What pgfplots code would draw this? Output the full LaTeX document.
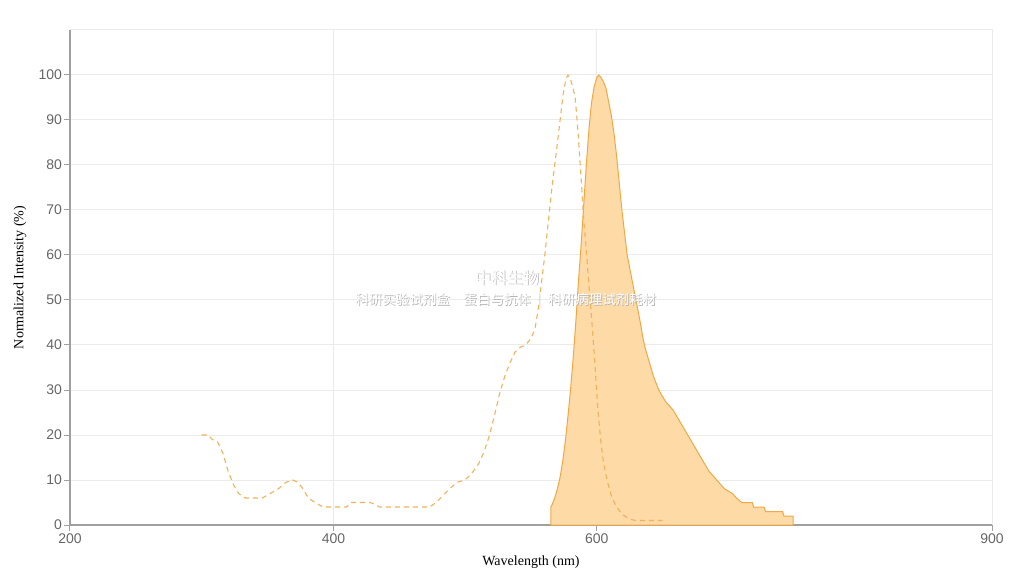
\documentclass[border=0pt]{standalone}
\usepackage{pgfplots}
\pgfplotsset{compat=1.18}
\usepackage{fontspec}
\setmainfont{Liberation Serif}
\newfontfamily\ticksf{Liberation Sans}
\newfontfamily\cjk{Noto Sans CJK SC}
\definecolor{gridc}{RGB}{235,235,235}
\definecolor{axc}{RGB}{160,160,160}
\definecolor{tickc}{RGB}{102,102,102}
\definecolor{fillc}{RGB}{253,218,166}
\definecolor{linec}{RGB}{240,168,70}
\definecolor{dashc}{RGB}{242,178,92}
\begin{document}
\begin{tikzpicture}
\path[use as bounding box] (-70pt,-51pt) rectangle (942pt,525pt);
\begin{axis}[at={(0,0)}, anchor=south west, scale only axis,
  width=922pt, height=495pt,
  xmin=200, xmax=900, ymin=0, ymax=110,
  xtick={200,400,600,900}, ytick={0,10,...,100},
  axis lines=left, axis line style={-, color=axc, line width=1.6pt},
  grid=major, major grid style={color=gridc, line width=1pt},
  tick align=outside, major tick length=6pt,
  tick style={color=axc, line width=1pt},
  /pgf/number format/assume math mode=true,
  ticklabel style={font=\ticksf\fontsize{14}{16}\selectfont, text=tickc},
  yticklabel style={xshift=1.5pt},
  xticklabel style={yshift=1pt},
  xlabel={Wavelength (nm)}, ylabel={Normalized Intensity (\%)},
  xlabel style={font=\fontsize{14}{16}\selectfont, at={(axis description cs:0.5,-0.0747)}, anchor=center},
  ylabel style={font=\fontsize{14}{16}\selectfont, at={(axis description cs:-0.0542,0.5)}, anchor=center},
  clip=false,
]
\draw[gridc, line width=1pt] (rel axis cs:0,1) -- (rel axis cs:1,1) -- (rel axis cs:1,0);
\addplot[fill=fillc, draw=linec, line width=1pt] coordinates {
(565,4) (566,4.5) (568,6) (570,8) (572,10.5) (574,14) (576,18.5) (578,24)
(580,30) (582,37) (584,45) (586,54) (588,62) (590,71) (592,80) (594,88)
(596,94) (598,97.5) (600,99.5) (601.5,100) (603,99.5) (605,98.5) (607,97)
(609,94) (611,91) (613,87) (615,82) (617,76) (619,70) (621,65) (623,60)
(625,57) (627,54) (629,51) (631,48) (633,45) (635,41.5) (637,39) (639,37)
(641,35) (643,33) (645,31.5) (647,30) (649,29) (652,27.5) (655,26.5)
(658,25.5) (661,24) (664,22.5) (667,21) (670,19.5) (673,18) (676,16.5)
(679,15) (682,13.5) (685,12) (688,11) (691,10) (694,9) (697,8) (700,7.5)
(703,7) (706,6) (710,5) (714,5) (718,5) (719,4) (727,4) (728,3) (741,3)
(742,2) (749,2)
} \closedcycle;
\addplot[draw=dashc, line width=1.1pt, dash pattern=on 5pt off 4pt] coordinates {
(300,20) (305,20) (308,19) (312,18.5) (316,16) (320,12) (324,9) (328,7)
(333,6) (340,6) (346,6) (352,7) (358,8) (364,9.5) (369,10) (373,9.5)
(377,8) (381,6) (386,5) (392,4) (400,4) (410,4) (413,5) (420,5) (428,5)
(432,4.5) (435,4) (445,4) (455,4) (465,4) (473,4) (478,5) (483,6.5)
(488,8) (494,9.5) (500,10) (505,11.5) (510,13.5) (514,16) (518,19.5)
(522,24) (526,29) (530,33) (534,36) (538,38.5) (542,39.5) (546,40)
(550,41.5) (553,43.5) (556,49) (558,54) (560.5,60) (563,67) (565.5,74)
(568,80) (570.5,86) (572.5,91) (574.5,96) (576.5,99) (578,100) (580,99)
(582,97) (583.5,95) (585,90) (586,86) (588.5,75) (590,68) (592,61)
(594,53) (596,46) (598.5,36) (600,29) (601,25) (603,18.5) (605,14)
(607,11) (609,8.5) (611,6.5) (614,4.5) (617.5,3) (621,2) (626,1.2)
(630,1) (640,1) (650,1)
};
\node[text=black!30] at (axis cs:532,54.9) [xshift=0.8pt,yshift=-0.8pt] {\cjk\fontsize{16}{18}\selectfont 中科生物};
\node[text=white] at (axis cs:532,54.9) {\cjk\fontsize{16}{18}\selectfont 中科生物};
\node[text=black!30] at (axis cs:531,49.8) [xshift=0.8pt,yshift=-0.8pt] {\cjk\fontsize{13.5}{15}\selectfont 科研实验试剂盒\quad 蛋白与抗体\enspace\textcolor{black!8}{|}\enspace 科研病理试剂耗材};
\node[text=white] at (axis cs:531,49.8) {\cjk\fontsize{13.5}{15}\selectfont 科研实验试剂盒\quad 蛋白与抗体\enspace\textcolor{white!90!black}{|}\enspace 科研病理试剂耗材};
\end{axis}
\end{tikzpicture}
\end{document}
